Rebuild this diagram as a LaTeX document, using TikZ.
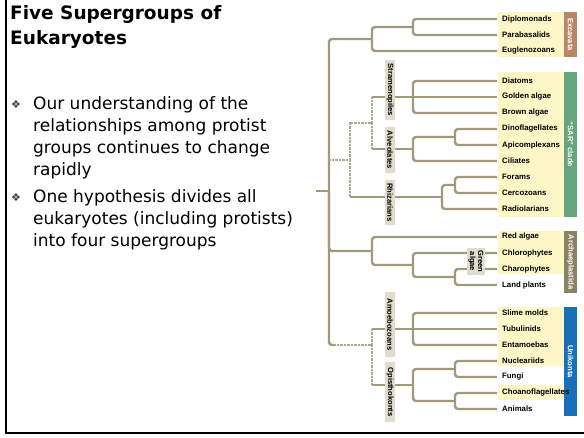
\documentclass[tikz,border=0pt]{standalone}
\usepackage{fontspec}
\setmainfont{DejaVu Sans}
\newfontfamily\labfont{Liberation Sans}
\usetikzlibrary{calc}
\definecolor{brc}{RGB}{158,154,122}
\definecolor{gbox}{RGB}{222,221,206}
\definecolor{ylw}{RGB}{253,246,198}
\definecolor{cEx}{RGB}{184,135,106}
\definecolor{cSar}{RGB}{103,165,124}
\definecolor{cAr}{RGB}{139,130,100}
\definecolor{cUn}{RGB}{26,112,184}
\begin{document}
\begin{tikzpicture}[x=1pt,y=-1pt,
  br/.style={draw=brc,line width=2.4pt,rounded corners=3pt},
  brd/.style={draw=brc!85,line width=2.2pt,dash pattern=on 0.7pt off 0.7pt},
  leaf/.style={anchor=west,inner sep=0pt,font=\labfont\bfseries\fontsize{7.8}{8}\selectfont},
  clade/.style={fill=gbox,rotate=-90,inner sep=0pt,minimum height=10pt,font=\labfont\bfseries\fontsize{7.6}{8}\selectfont},
  band/.style={rotate=-90,inner sep=0pt,minimum height=13pt,text=white,font=\labfont\bfseries\fontsize{7.6}{8}\selectfont},
  body/.style={anchor=base west,inner sep=0pt,font=\fontsize{17}{20}\selectfont},
  ttl/.style={anchor=base west,inner sep=0pt,font=\bfseries\fontsize{18.5}{22}\selectfont},
  bul/.style={inner sep=0pt,text=black!75,font=\fontsize{11}{12}\selectfont}
]
\useasboundingbox (0,0) rectangle (584,438);
% frame
\draw[line width=2pt] (6,-2) -- (6,433) -- (586,433);
% title and bullets
\node[ttl] (t1) at (10,19.5) {Five Supergroups of};
\node[ttl] (t2) at (10,44.3) {Eukaryotes};
\node[bul] (b1) at (16,104.5) {❖};
\node[body] (l1) at (33,110) {Our understanding of the};
\node[body] (l2) at (33,131.8) {relationships among protist};
\node[body] (l3) at (33,153.6) {groups continues to change};
\node[body] (l4) at (33,175.4) {rapidly};
\node[bul] (b2) at (16,197.5) {❖};
\node[body] (l5) at (33,203) {One hypothesis divides all};
\node[body] (l6) at (33,225) {eukaryotes (including protists)};
\node[body] (l7) at (33,247) {into four supergroups};
% yellow backgrounds
\fill[ylw] (498,12) rectangle (563.5,57);
\fill[ylw] (498,72) rectangle (563.5,217);
\fill[ylw] (498,231) rectangle (563.5,274);
\fill[ylw] (498,307) rectangle (563.5,366);
\fill[ylw] (498,385) rectangle (563.5,400);
% leaf tips
\foreach \n/\y in {Dip/19,Par/35,Eug/51,Dia/81,Gol/97,Bro/113,Din/129,Api/145,Cil/161,For/177,Cer/193,Rad/209,Red/237,Chl/253,Cha/269,Lan/285,Sli/313,Tub/329,Ent/345,Nuc/361,Fun/377,Cho/393,Ani/409}
  \coordinate (t\n) at (497,\y);
% internal nodes
\coordinate (stem) at (316,191);
\coordinate (root) at (329,191);
\coordinate (EX) at (372,39);
\coordinate (DP) at (413,27);
\coordinate (SAR) at (350,160);
\coordinate (SU) at (372,123);
\coordinate (ST) at (413,97);
\coordinate (AL) at (413,149);
\coordinate (DA) at (455,137);
\coordinate (RH) at (442,197);
\coordinate (FC) at (455,185);
\coordinate (AR) at (372,251);
\coordinate (GR) at (413,265);
\coordinate (CL) at (455,277);
\coordinate (UN) at (372,345);
\coordinate (AM) at (413,329);
\coordinate (OP) at (413,385);
\coordinate (NF) at (455,369);
\coordinate (CA) at (455,401);
% branches
\draw[br] (stem) -- (root);
\draw[br] (root) |- (EX);
\draw[br] (root) |- (AR);
\draw[br] (root) |- ($(root|-UN)+(5,0)$);
\draw[brd] ($(root|-UN)+(5,0)$) -- (UN);
\draw[brd] (root|-SAR) -- (SAR);
\draw[br] (EX) |- (DP); \draw[br] (EX) |- (tEug);
\draw[br] (DP) |- (tDip); \draw[br] (DP) |- (tPar);
% SAR
\draw[brd] (SAR) |- (SU);
\draw[brd] (SAR) -- (SAR|-RH);
\draw[br] (SAR|-RH) -- (RH);
\draw[brd] (SU) -- (SU|-ST); \draw[br] (SU|-ST) -- (ST);
\draw[brd] (SU) -- (SU|-AL); \draw[br] (SU|-AL) -- (AL);
\draw[br] (ST) |- (tDia); \draw[br] (ST) -- (tGol); \draw[br] (ST) |- (tBro);
\draw[br] (AL) |- (DA); \draw[br] (AL) |- (tCil);
\draw[br] (DA) |- (tDin); \draw[br] (DA) |- (tApi);
\draw[br] (RH) |- (FC); \draw[br] (RH) |- (tRad);
\draw[br] (FC) |- (tFor); \draw[br] (FC) |- (tCer);
% Archaeplastida
\draw[br] (AR) |- (tRed); \draw[br] (AR) |- (GR);
\draw[br] (GR) |- (tChl); \draw[br] (GR) |- (CL);
\draw[br] (CL) |- (tCha); \draw[br] (CL) |- (tLan);
% Unikonta
\draw[brd] (UN) -- (UN|-AM); \draw[br] (UN|-AM) -- (AM);
\draw[brd] (UN) -- (UN|-OP); \draw[br] (UN|-OP) -- (OP);
\draw[br] (AM) |- (tSli); \draw[br] (AM) -- (tTub); \draw[br] (AM) |- (tEnt);
\draw[br] (OP) |- (NF); \draw[br] (OP) |- (CA);
\draw[br] (NF) |- (tNuc); \draw[br] (NF) |- (tFun);
\draw[br] (CA) |- (tCho); \draw[br] (CA) |- (tAni);
% clade labels
\node[clade,minimum width=60pt] (cStr) at (390,90) {Stramenopiles};
\node[clade,minimum width=46pt] (cAlv) at (390,150) {Alveolates};
\node[clade,minimum width=45pt] (cRhi) at (390,202.5) {Rhizarians};
\node[clade,minimum width=65pt] (cAmo) at (390,324.5) {Amoebozoans};
\node[clade,minimum width=60pt] (cOpi) at (390,392) {Opisthokonts};
\node[clade,minimum width=27pt,minimum height=18pt,align=center,font=\labfont\bfseries\fontsize{7.6}{8}\selectfont] (cGre) at (476,261.5) {Green\\algae};
% leaf labels
\foreach \n/\y/\t in {Dip/19/Diplomonads,Par/35/Parabasalids,Eug/51/Euglenozoans,Dia/81/Diatoms,Gol/97/Golden algae,Bro/113/Brown algae,Din/129/Dinoflagellates,Api/145/Apicomplexans,Cil/161/Ciliates,For/177/Forams,Cer/193/Cercozoans,Rad/209/Radiolarians,Red/237/Red algae,Chl/253/Chlorophytes,Cha/269/Charophytes,Lan/285/Land plants,Sli/313/Slime molds,Tub/329/Tubulinids,Ent/345/Entamoebas,Nuc/361/Nucleariids,Fun/377/Fungi,Ani/409/Animals}
  \node[leaf] (n\n) at (502,\y) {\t};
% supergroup bands
\node[band,fill=cEx,minimum width=45pt] (bEx) at (570.5,34.5) {Excavata};
\node[band,fill=cSar,minimum width=145pt] (bSar) at (570.5,144.5) {“SAR” clade};
\node[band,fill=cAr,minimum width=62pt] (bAr) at (570.5,262) {Archaeplastida};
\node[band,fill=cUn,minimum width=109pt] (bUn) at (570.5,361.5) {Unikonta};
\node[leaf] (nCho) at (502,393) {Choanoflagellates};
\end{tikzpicture}
\end{document}
